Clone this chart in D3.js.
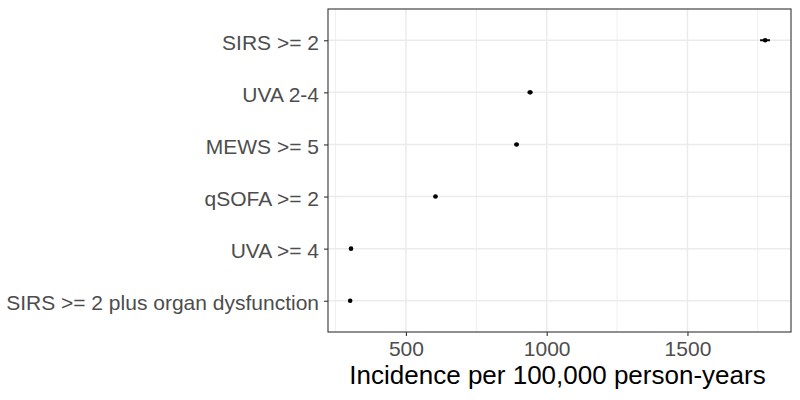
<!DOCTYPE html>
<html><head><meta charset="utf-8">
<script src="https://cdn.jsdelivr.net/npm/d3@7"></script>
<style>body{margin:0;background:#fff}svg{display:block}</style>
</head><body>
<svg id="c" width="800" height="400"></svg>
<script>
const categories = ["SIRS >= 2","UVA 2-4","MEWS >= 5","qSOFA >= 2","UVA >= 4","SIRS >= 2 plus organ dysfunction"];
const estimates = [1776, 941, 893, 605, 305, 302];
const lower = [1758, 932, 885, 599, 301, 298];
const upper = [1793, 950, 901, 611, 309, 306];
const xTicks = [500, 1000, 1500];
const xMinor = [250, 750, 1250, 1750];
const xTitle = "Incidence per 100,000 person-years";

const FONT = "Liberation Sans, Arial, sans-serif";
const svg = d3.select("#c");
const L = 328, R = 791, T = 9, B = 332;
const dmin = d3.min(lower), dmax = d3.max(upper), span = dmax - dmin;
const x = d3.scaleLinear().domain([dmin - 0.05*span, dmax + 0.05*span]).range([L, R]);
const n = categories.length;
const yLin = d3.scaleLinear().domain([0.4, n + 0.6]).range([B, T]);
const y = c => yLin(n - categories.indexOf(c));

svg.append("rect").attr("x",L).attr("y",T).attr("width",R-L).attr("height",B-T).attr("fill","#fff");
const g = svg.append("g");
g.selectAll(".minor").data(xMinor).join("line").attr("x1",d=>x(d)).attr("x2",d=>x(d)).attr("y1",T).attr("y2",B).attr("stroke","#ebebeb").attr("stroke-width",0.8);
g.selectAll(".major").data(xTicks).join("line").attr("x1",d=>x(d)).attr("x2",d=>x(d)).attr("y1",T).attr("y2",B).attr("stroke","#ebebeb").attr("stroke-width",1.5);
g.selectAll(".hmajor").data(categories).join("line").attr("x1",L).attr("x2",R).attr("y1",d=>y(d)).attr("y2",d=>y(d)).attr("stroke","#ebebeb").attr("stroke-width",1.5);

// error bars & points
g.selectAll(".eb").data(categories).join("line")
  .attr("x1",(d,i)=>x(lower[i])).attr("x2",(d,i)=>x(upper[i]))
  .attr("y1",d=>y(d)).attr("y2",d=>y(d)).attr("stroke","#000").attr("stroke-width",2);
g.selectAll(".pt").data(categories).join("circle")
  .attr("cx",(d,i)=>x(estimates[i])).attr("cy",d=>y(d)).attr("r",2.3).attr("fill","#000");

svg.append("rect").attr("x",L).attr("y",T).attr("width",R-L).attr("height",B-T).attr("fill","none").attr("stroke","#333").attr("stroke-width",1.1);

// axes
const xa = svg.append("g").attr("transform",`translate(0,${B})`)
  .call(d3.axisBottom(x).tickValues(xTicks).tickSize(4).tickPadding(5).tickFormat(d3.format("d")));
xa.select(".domain").remove();
xa.selectAll("line").attr("stroke","#333").attr("stroke-width",1.1);
xa.selectAll("text").attr("fill","#4d4d4d").style("font-family",FONT).style("font-size","21px");

const ya = svg.append("g").attr("transform",`translate(${L},0)`)
  .call(d3.axisLeft(d3.scalePoint().domain(categories).range([y(categories[0]), y(categories[n-1])])).tickSize(4).tickPadding(5));
ya.select(".domain").remove();
ya.selectAll("line").attr("stroke","#333").attr("stroke-width",1.1);
ya.selectAll("text").attr("fill","#4d4d4d").attr("dy","0.42em").style("font-family",FONT).style("font-size","21px");

svg.append("text").attr("x",(L+R)/2 - 2).attr("y",384).attr("text-anchor","middle")
  .style("font-family",FONT).style("font-size","26px").attr("fill","#000").text(xTitle);
</script>
</body></html>
